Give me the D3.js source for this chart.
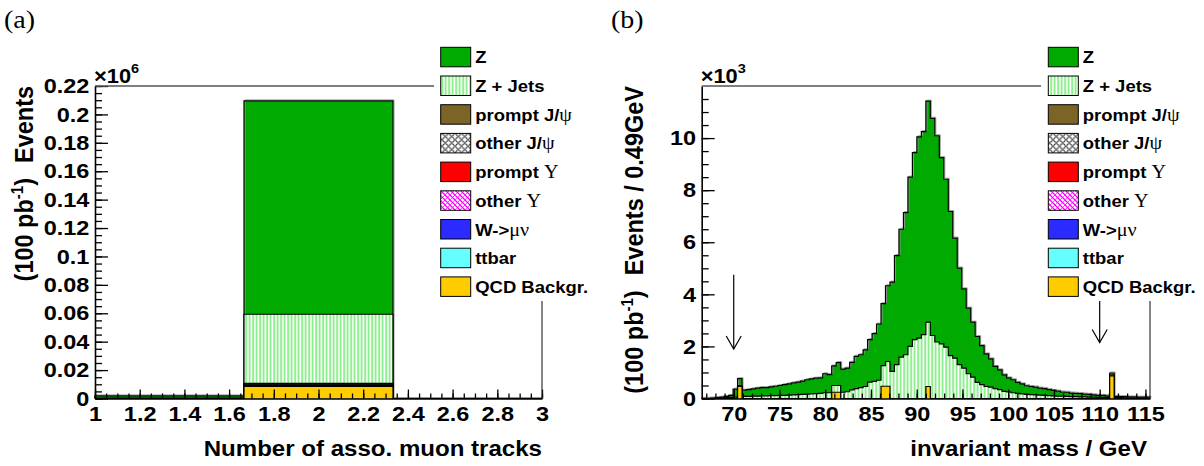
<!DOCTYPE html>
<html>
<head>
<meta charset="utf-8">
<script src="https://cdn.jsdelivr.net/npm/d3@7"></script>
<style>
  html, body { margin: 0; padding: 0; background: #fff; }
  svg { display: block; }
  text { font-family: "Liberation Sans", Arial, Helvetica, sans-serif; font-weight: bold; fill: #000; }
  .sym { font-family: "Liberation Serif", "DejaVu Serif", serif; font-weight: normal; }
</style>
</head>
<body>
<svg id="chart" width="1204" height="466"></svg>
<script>
// ---------------------------------------------------------------------------
// Panel (a): number of associated muon tracks, 3 bins over [1, 3]  (×10^6 events)
const trackEdges = [1, 5 / 3, 7 / 3, 3];
const trackZ          = [0.0015, 0.1502, 0];
const trackZJets      = [0.0003, 0.0486, 0];
const trackPromptJpsi = [0, 0.0006, 0];
const trackOtherJpsi  = [0, 0.0006, 0];
const trackPromptUps  = [0, 0.0002, 0];
const trackOtherUps   = [0, 0.0002, 0];
const trackW          = [0, 0.0004, 0];
const trackTtbar      = [0, 0.0002, 0];
const trackQCD        = [0, 0.0085, 0];
const trackXTicks  = [1, 1.2, 1.4, 1.6, 1.8, 2, 2.2, 2.4, 2.6, 2.8, 3];
const trackXLabels = ["1", "1.2", "1.4", "1.6", "1.8", "2", "2.2", "2.4", "2.6", "2.8", "3"];
const trackYTicks  = [0, 0.02, 0.04, 0.06, 0.08, 0.1, 0.12, 0.14, 0.16, 0.18, 0.2, 0.22];
const trackYLabels = ["0", "0.02", "0.04", "0.06", "0.08", "0.1", "0.12", "0.14", "0.16", "0.18", "0.2", "0.22"];

// ---------------------------------------------------------------------------
// Panel (b): di-muon invariant mass, 100 bins of 0.49 GeV over [66.5, 115.5]  (×10^3 events)
const massLow = 66.5, massBinWidth = 0.49, massBins = 100;
const massZ = [
  0.01, 0.01, 0.01, 0.02, 0.03, 0.05, 0.08, 0.31, 0.26, 0.24,
  0.26, 0.28, 0.31, 0.32, 0.32, 0.34, 0.36, 0.38, 0.41, 0.43,
  0.46, 0.48, 0.51, 0.55, 0.57, 0.59, 0.59, 0.73, 0.70, 0.75,
  0.88, 0.89, 0.91, 1.06, 1.24, 1.26, 1.41, 1.63, 1.83, 2.16,
  2.38, 2.91, 3.43, 4.19, 4.91, 5.46, 6.50, 7.18, 7.73, 7.80,
  8.49, 8.34, 7.92, 7.15, 6.45, 5.53, 4.61, 3.71, 3.04, 2.52,
  2.11, 1.76, 1.50, 1.25, 1.08, 0.85, 0.76, 0.64, 0.54, 0.50,
  0.42, 0.38, 0.33, 0.31, 0.30, 0.27, 0.26, 0.23, 0.21, 0.19,
  0.16, 0.16, 0.14, 0.13, 0.13, 0.11, 0.11, 0.09, 0.08, 0.08,
  0.06, 0.08, 0.05, 0.04, 0.05, 0.04, 0.04, 0.03, 0.04, 0.04
];
const massZJets = [
  0.00, 0.00, 0.01, 0.01, 0.02, 0.03, 0.04, 0.05, 0.04, 0.08,
  0.08, 0.09, 0.09, 0.10, 0.10, 0.11, 0.11, 0.12, 0.12, 0.13,
  0.14, 0.15, 0.16, 0.17, 0.18, 0.19, 0.20, 0.22, 0.22, 0.26,
  0.26, 0.24, 0.26, 0.33, 0.38, 0.42, 0.46, 0.63, 0.66, 0.70,
  0.79, 0.95, 1.04, 1.30, 1.59, 1.68, 2.00, 2.26, 2.32, 2.45,
  2.47, 2.42, 2.17, 2.10, 1.97, 1.65, 1.55, 1.30, 1.17, 0.95,
  0.82, 0.62, 0.53, 0.46, 0.44, 0.38, 0.34, 0.27, 0.25, 0.22,
  0.20, 0.18, 0.16, 0.15, 0.14, 0.13, 0.12, 0.11, 0.10, 0.09,
  0.09, 0.08, 0.07, 0.07, 0.06, 0.06, 0.05, 0.05, 0.04, 0.04,
  0.04, 0.03, 0.03, 0.03, 0.02, 0.02, 0.02, 0.02, 0.01, 0.01
];
const massQCD = [
  0, 0, 0, 0, 0, 0, 0, 0, 0.46, 0,
  0, 0, 0, 0, 0, 0, 0, 0, 0, 0,
  0, 0, 0, 0, 0, 0, 0, 0, 0, 0.24,
  0.24, 0, 0, 0, 0, 0, 0, 0, 0, 0,
  0.47, 0.47, 0, 0, 0, 0, 0, 0, 0, 0,
  0.46, 0, 0, 0, 0, 0, 0, 0, 0, 0,
  0, 0, 0, 0, 0, 0, 0, 0, 0, 0,
  0, 0, 0, 0, 0, 0, 0, 0, 0, 0,
  0, 0, 0, 0, 0, 0, 0, 0, 0, 0,
  0, 0.87, 0, 0, 0, 0, 0, 0, 0, 0
];
const massXTicks  = [70, 75, 80, 85, 90, 95, 100, 105, 110, 115];
const massXLabels = ["70", "75", "80", "85", "90", "95", "100", "105", "110", "115"];
const massYTicks  = [0, 2, 4, 6, 8, 10];
const massYLabels = ["0", "2", "4", "6", "8", "10"];
const massCutArrows = [ { mass: 70, from: 4.75, to: 1.9 }, { mass: 110, from: 4.75, to: 2.15 } ];

// Legend entries (plain part, symbol-font part)
const legendKeys   = ["Z", "ZJets", "promptJpsi", "otherJpsi", "promptUps", "otherUps", "W", "ttbar", "QCD"];
const legendLabels = [["Z", ""], ["Z + Jets", ""], ["prompt J/", "ψ"], ["other J/", "ψ"],
                      ["prompt ", "Υ"], ["other ", "Υ"], ["W->", "μν"], ["ttbar", ""], ["QCD Backgr.", ""]];
// stacking order, bottom to top
const stackOrder = ["QCD", "ttbar", "W", "otherUps", "promptUps", "otherJpsi", "promptJpsi", "ZJets", "Z"];

// ---------------------------------------------------------------------------
const svg = d3.select("#chart");
const SX = 1.12;  // horizontal text stretch
const defs = svg.append("defs");

// Z + Jets: vertical light-green hatching
const pz = defs.append("pattern").attr("id", "hatchZJ").attr("patternUnits", "userSpaceOnUse")
  .attr("width", 3.5).attr("height", 10);
pz.append("rect").attr("width", 3.5).attr("height", 10).attr("fill", "#fff");
pz.append("rect").attr("x", 0.3).attr("width", 1.7).attr("height", 10).attr("fill", "#7ded7d");

// other J/psi: small circles
const pc = defs.append("pattern").attr("id", "circlesJ").attr("patternUnits", "userSpaceOnUse")
  .attr("width", 6.5).attr("height", 6.5);
pc.append("rect").attr("width", 6.5).attr("height", 6.5).attr("fill", "#fff");
pc.append("circle").attr("cx", 3.25).attr("cy", 3.25).attr("r", 2.6).attr("fill", "none")
  .attr("stroke", "#000").attr("stroke-width", 0.9);

// other Upsilon: magenta cross hatching
const pu = defs.append("pattern").attr("id", "hatchUps").attr("patternUnits", "userSpaceOnUse")
  .attr("width", 5).attr("height", 5);
pu.append("rect").attr("width", 5).attr("height", 5).attr("fill", "#fff");
pu.append("path").attr("d", "M0,0L5,5M-1,4L1,6M4,-1L6,1").attr("stroke", "#ff00ff").attr("stroke-width", 1.3);
pu.append("path").attr("d", "M0,5L5,0M-1,1L1,-1M4,6L6,4").attr("stroke", "#ff00ff").attr("stroke-width", 0.7);

const fills = {
  Z: "#00aa00", ZJets: "url(#hatchZJ)", promptJpsi: "#7b6526", otherJpsi: "url(#circlesJ)",
  promptUps: "#ff0000", otherUps: "url(#hatchUps)", W: "#2b2bff", ttbar: "#66ffff", QCD: "#ffcc00"
};

function stretchedText(parent, x, y, str, size, anchor, rotate) {
  const t = parent.append("text")
    .attr("transform", `translate(${x},${y}) scale(${SX},1)` + (rotate ? ` rotate(${rotate})` : ""))
    .attr("font-size", size)
    .attr("text-anchor", anchor || "start");
  t.text(str);
  return t;
}

// Draw one stacked-histogram panel
function drawPanel(cfg) {
  const g = svg.append("g");
  const x = d3.scaleLinear().domain(cfg.xDomain).range(cfg.xRange);
  const y = d3.scaleLinear().domain(cfg.yDomain).range(cfg.yRange);
  const n = cfg.edges.length - 1;

  // stacked cumulative tops
  const rows = d3.range(n).map(i => {
    const r = {};
    for (const k of stackOrder) r[k] = cfg.series[k] ? cfg.series[k][i] : 0;
    return r;
  });
  const stacked = d3.stack().keys(stackOrder)(rows);

  const area = d3.area().curve(d3.curveStepAfter)
    .x(d => x(d.x)).y0(y(0)).y1(d => y(d.v));
  const line = d3.line().curve(d3.curveStepAfter)
    .x(d => x(d.x)).y(d => y(d.v));

  // draw from the top of the stack downwards, each layer as its cumulative histogram
  for (let s = stacked.length - 1; s >= 0; s--) {
    const layer = stacked[s];
    const key = layer.key;
    if (!cfg.series[key]) continue;
    const top = layer.map(d => d[1]);
    const pts = top.map((v, i) => ({ x: cfg.edges[i], v }));
    pts.push({ x: cfg.edges[n], v: top[n - 1] });
    const outline = [{ x: cfg.edges[0], v: 0 }].concat(pts, [{ x: cfg.edges[n], v: 0 }]);
    g.append("path").attr("d", area(pts)).attr("fill", fills[key]);
    if (key === "Z") {
      g.append("path").attr("d", line(outline)).attr("fill", "none")
        .attr("stroke", "#9a9a9a").attr("stroke-width", 1).attr("transform", "translate(1,-1)");
    }
    g.append("path").attr("d", line(outline)).attr("fill", "none")
      .attr("stroke", "#000").attr("stroke-width", 1.2);
  }

  // axes (ticks point into the frame)
  const ax = g.append("g").attr("transform", `translate(0,${cfg.yRange[0]})`);
  ax.call(d3.axisBottom(x).tickValues(cfg.xMinor).tickSizeInner(-5).tickSizeOuter(0).tickFormat(""));
  ax.call(g2 => g2.selectAll("path").remove());
  const axMaj = g.append("g").attr("transform", `translate(0,${cfg.yRange[0]})`);
  axMaj.call(d3.axisBottom(x).tickValues(cfg.xTicks).tickSizeInner(-9).tickSizeOuter(0).tickPadding(8)
    .tickFormat((d, i) => cfg.xLabels[i]));
  axMaj.selectAll("text").attr("font-size", 21).attr("font-family", null)
    .attr("transform", `scale(${SX},1)`);

  const ay = g.append("g").attr("transform", `translate(${cfg.xRange[0]},0)`);
  ay.call(d3.axisLeft(y).tickValues(cfg.yMinor).tickSizeInner(-7).tickSizeOuter(0).tickFormat(""));
  ay.call(g2 => g2.selectAll("path").remove());
  const ayMaj = g.append("g").attr("transform", `translate(${cfg.xRange[0]},0)`);
  ayMaj.call(d3.axisLeft(y).tickValues(cfg.yTicks).tickSizeInner(-13).tickSizeOuter(0).tickPadding(5)
    .tickFormat((d, i) => cfg.yLabels[i]));
  ayMaj.selectAll("text").attr("font-size", 21).attr("font-family", null)
    .attr("transform", `scale(${SX},1)`);

  g.selectAll(".tick line").attr("stroke", "#000").attr("stroke-width", 1.3);
  g.selectAll(".domain").attr("stroke", "#000").attr("stroke-width", 1.6);
  g.selectAll(".tick text").attr("fill", "#000");

  // frame top and right edges
  g.append("line").attr("x1", cfg.xRange[0]).attr("x2", cfg.legendX0)
    .attr("y1", y(cfg.yDomain[1])).attr("y2", y(cfg.yDomain[1]))
    .attr("stroke", "#555").attr("stroke-width", 1.3);
  g.append("line").attr("x1", cfg.xRange[1]).attr("x2", cfg.xRange[1])
    .attr("y1", y(cfg.yDomain[1])).attr("y2", cfg.yRange[0])
    .attr("stroke", "#222").attr("stroke-width", 1.1);

  // cut arrows
  for (const a of (cfg.arrows || [])) {
    const ax0 = x(a.mass), yt = y(a.to);
    g.append("line").attr("x1", ax0).attr("x2", ax0).attr("y1", y(a.from)).attr("y2", yt)
      .attr("stroke", "#000").attr("stroke-width", 1.2);
    g.append("path").attr("d", `M${ax0 - 7.5},${yt - 13}L${ax0},${yt}L${ax0 + 7.5},${yt - 13}`)
      .attr("fill", "none").attr("stroke", "#000").attr("stroke-width", 1.2);
  }

  // legend (white box over the top-right corner of the frame)
  const lg = g.append("g");
  lg.append("rect").attr("x", cfg.legendX0).attr("y", 38).attr("width", cfg.legendW).attr("height", 263)
    .attr("fill", "#fff");
  legendKeys.forEach((k, i) => {
    const by = 47.3 + i * 28.7;
    lg.append("rect").attr("x", cfg.legendBoxX).attr("y", by).attr("width", 30).attr("height", 19.5)
      .attr("fill", fills[k]).attr("stroke", "#000").attr("stroke-width", 1);
    const t = stretchedText(lg, cfg.legendBoxX + 34.5, by + 16, "", 16.5, "start");
    t.append("tspan").text(legendLabels[i][0]);
    if (legendLabels[i][1]) t.append("tspan").attr("class", "sym").attr("font-size", 18).text(legendLabels[i][1]);
  });

  // multiplier above the y axis
  const m = stretchedText(g, cfg.xRange[0] - 1, 83, "", 19.5, "start");
  m.append("tspan").text("×10");
  m.append("tspan").attr("font-size", 13).attr("dy", -10).text(cfg.exponent);

  // axis titles
  stretchedText(g, cfg.xTitleRight, cfg.xTitleY, cfg.xTitle, 21.5, "end");
  const yt = stretchedText(g, cfg.yTitleX, cfg.yRange[1], "", 23.5, "end", -90);
  yt.append("tspan").text("(100 pb");
  yt.append("tspan").attr("font-size", 15).attr("dy", -9).text("-1");
  yt.append("tspan").attr("dy", 9).text(")");
  yt.append("tspan").attr("dx", 15).text(cfg.yTitleTail);

  // panel tag
  stretchedText(g, cfg.tagX, 28, cfg.tag, 25, "start").attr("class", "sym");
}

// panel (a)
drawPanel({
  edges: trackEdges,
  series: { Z: trackZ, ZJets: trackZJets, promptJpsi: trackPromptJpsi, otherJpsi: trackOtherJpsi,
            promptUps: trackPromptUps, otherUps: trackOtherUps, W: trackW, ttbar: trackTtbar, QCD: trackQCD },
  xDomain: [1, 3], xRange: [95, 542],
  yDomain: [0, 0.22], yRange: [398.5, 86],
  xTicks: trackXTicks, xLabels: trackXLabels,
  xMinor: d3.range(1, 3.0001, 0.05),
  yTicks: trackYTicks, yLabels: trackYLabels,
  yMinor: d3.range(0, 0.2201, 0.005),
  legendX0: 434, legendW: 140, legendBoxX: 440.7,
  exponent: "6",
  xTitle: "Number of asso. muon tracks", xTitleRight: 542, xTitleY: 456,
  yTitleX: 33, yTitleTail: "Events",
  tag: "(a)", tagX: 4
});

// panel (b)
const massEdges = d3.range(massBins + 1).map(i => massLow + i * massBinWidth);
drawPanel({
  edges: massEdges,
  series: { Z: massZ, ZJets: massZJets, QCD: massQCD },
  xDomain: [massLow, massLow + massBins * massBinWidth], xRange: [701.7, 1150],
  yDomain: [0, 12], yRange: [398.5, 86],
  xTicks: massXTicks, xLabels: massXLabels,
  xMinor: d3.range(67, 115.5, 1),
  yTicks: massYTicks, yLabels: massYLabels,
  yMinor: d3.range(0, 11.9, 0.5),
  legendX0: 1041, legendW: 163, legendBoxX: 1048.3,
  exponent: "3",
  arrows: massCutArrows,
  xTitle: "invariant mass / GeV", xTitleRight: 1147, xTitleY: 456,
  yTitleX: 643, yTitleTail: "Events / 0.49GeV",
  tag: "(b)", tagX: 611
});
</script>
</body>
</html>
